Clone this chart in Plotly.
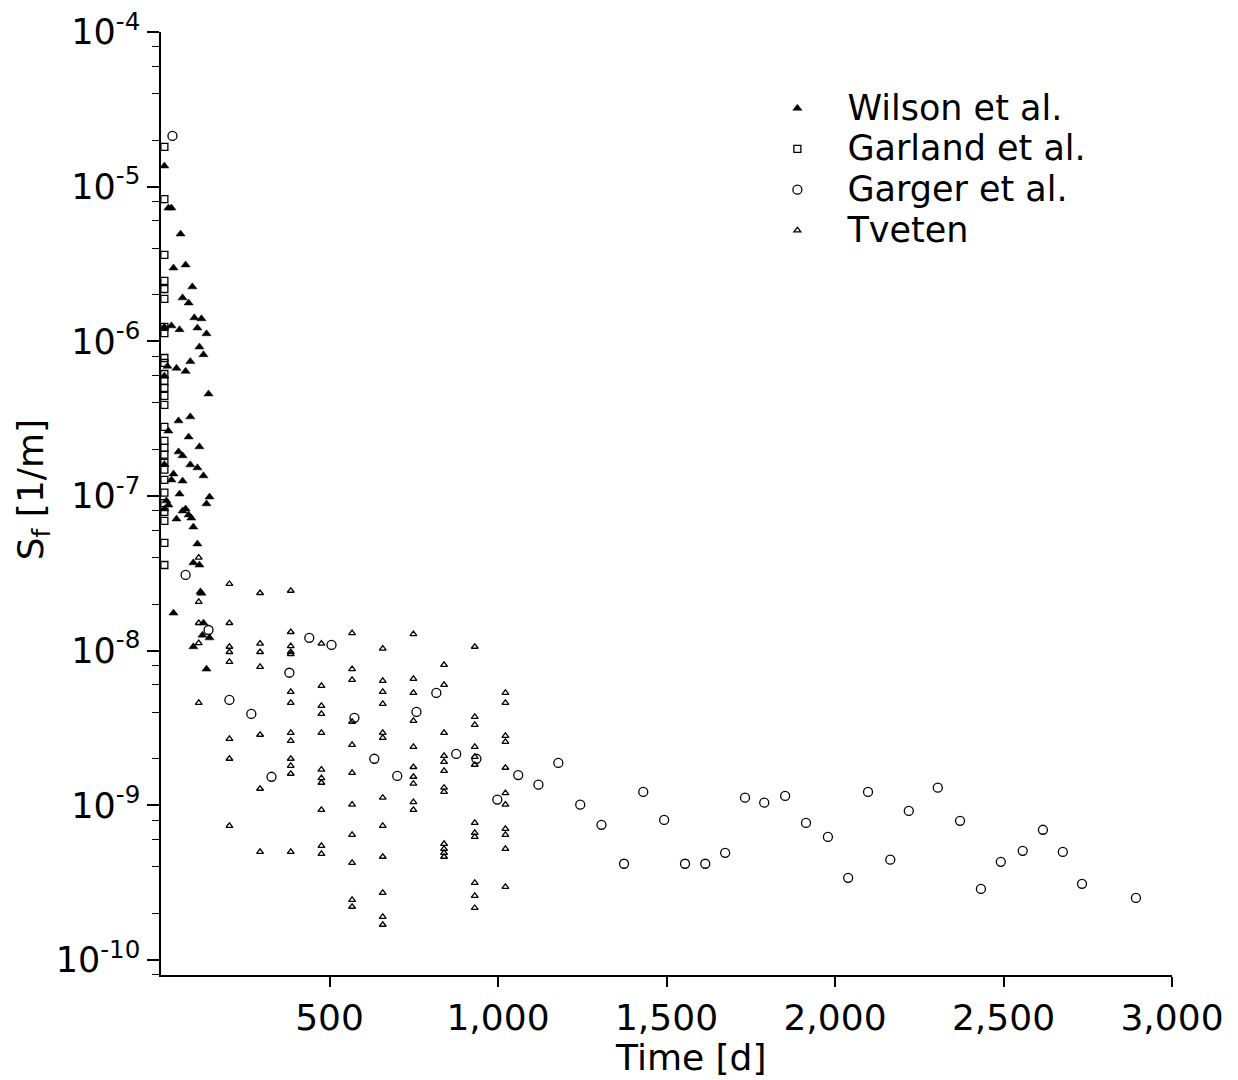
import plotly.graph_objects as go

# ---------------- data ----------------
wilson_t = [10, 22, 31, 58, 37, 73, 93, 64, 82, 99, 120, 108, 10, 31, 55, 135, 114, 126, 87, 19,
            46, 73, 10, 141, 87, 52, 22, 82, 114, 52, 64, 87, 108, 37, 126, 31, 64, 55, 144, 16,
            135, 22, 10, 73, 64, 82, 90, 46, 96, 108, 96, 114, 117, 120, 37, 126, 123, 144, 96, 135, 10]
wilson_sf = [1.36e-5, 7.28e-6, 7.28e-6, 4.94e-6, 2.98e-6, 3.12e-6, 2.25e-6, 1.91e-6, 1.77e-6, 1.42e-6,
             1.40e-6, 1.22e-6, 1.24e-6, 1.26e-6, 1.19e-6, 1.12e-6, 9.2e-7, 8.2e-7, 7.4e-7, 6.9e-7,
             6.7e-7, 6.4e-7, 5.97e-7, 4.57e-7, 3.25e-7, 3.06e-7, 2.63e-7, 2.41e-7, 2.08e-7, 1.93e-7,
             1.82e-7, 1.59e-7, 1.52e-7, 1.39e-7, 1.35e-7, 1.27e-7, 1.25e-7, 1.03e-7, 9.86e-8, 9.3e-8,
             8.9e-8, 8.75e-8, 8.25e-8, 8.25e-8, 8.0e-8, 7.55e-8, 7.2e-8, 7.1e-8, 6.3e-8, 4.9e-8,
             3.7e-8, 3.58e-8, 2.4e-8, 2.35e-8, 1.75e-8, 1.51e-8, 1.26e-8, 1.21e-8, 1.06e-8, 7.6e-9, 1.6e-7]

garland_t = [10] * 28
garland_sf = [1.81e-5, 8.3e-6, 3.62e-6, 2.46e-6, 2.18e-6, 1.88e-6, 1.24e-6, 1.13e-6, 7.8e-7, 7.25e-7,
              6.15e-7, 5.54e-7, 5.0e-7, 4.44e-7, 3.88e-7, 2.80e-7, 2.27e-7, 2.05e-7, 1.85e-7, 1.64e-7,
              1.48e-7, 1.27e-7, 1.05e-7, 9.0e-8, 7.9e-8, 6.9e-8, 4.97e-8, 3.58e-8]

garger_t = [34, 73, 141, 203, 268, 328, 381, 440, 506, 574, 633, 701, 758, 817, 876, 936, 998, 1060,
            1120, 1179, 1244, 1307, 1374, 1431, 1493, 1555, 1615, 1674, 1733, 1790, 1852, 1914, 1979,
            2039, 2098, 2164, 2219, 2305, 2371, 2433, 2492, 2557, 2617, 2676, 2733, 2893]
garger_sf = [2.13e-5, 3.09e-8, 1.36e-8, 4.8e-9, 3.9e-9, 1.53e-9, 7.2e-9, 1.21e-8, 1.09e-8, 3.68e-9,
             2.0e-9, 1.55e-9, 4.02e-9, 5.33e-9, 2.15e-9, 2.0e-9, 1.09e-9, 1.57e-9, 1.36e-9, 1.88e-9,
             1.01e-9, 7.48e-10, 4.19e-10, 1.22e-9, 8.05e-10, 4.19e-10, 4.19e-10, 4.93e-10, 1.12e-9,
             1.04e-9, 1.15e-9, 7.7e-10, 6.25e-10, 3.4e-10, 1.22e-9, 4.45e-10, 9.2e-10, 1.30e-9,
             7.94e-10, 2.88e-10, 4.31e-10, 5.08e-10, 6.95e-10, 5.0e-10, 3.11e-10, 2.52e-10]

tveten_days = [112, 203, 294, 385, 476, 567, 658, 749, 840, 931, 1022]
tveten_cols = [
    [4.0e-8, 2.07e-8, 1.51e-8, 1.12e-8, 4.6e-9],
    [2.70e-8, 1.51e-8, 1.06e-8, 9.8e-9, 8.47e-9, 2.69e-9, 2.0e-9, 7.36e-10],
    [2.36e-8, 1.11e-8, 9.8e-9, 7.86e-9, 2.86e-9, 1.28e-9, 5.0e-10],
    [2.44e-8, 1.32e-8, 1.07e-8, 9.8e-9, 9.5e-9, 5.42e-9, 4.6e-9, 2.94e-9, 2.61e-9, 2.0e-9, 1.80e-9, 1.60e-9, 5.0e-10],
    [1.11e-8, 5.92e-9, 4.40e-9, 3.90e-9, 2.94e-9, 1.70e-9, 1.50e-9, 1.40e-9, 9.35e-10, 5.47e-10, 4.86e-10],
    [1.30e-8, 7.6e-9, 6.47e-9, 3.47e-9, 2.46e-9, 1.62e-9, 1.01e-9, 6.44e-10, 4.25e-10, 2.45e-10, 2.21e-10],
    [1.03e-8, 6.38e-9, 5.42e-9, 4.53e-9, 2.94e-9, 2.73e-9, 1.12e-9, 7.36e-10, 4.65e-10, 2.72e-10, 1.90e-10, 1.69e-10],
    [1.28e-8, 6.57e-9, 5.34e-9, 3.52e-9, 2.39e-9, 1.77e-9, 1.53e-9, 1.38e-9, 1.05e-9, 9.35e-10],
    [8.1e-9, 6.01e-9, 2.94e-9, 2.09e-9, 1.91e-9, 1.67e-9, 1.30e-9, 1.22e-9, 5.64e-10, 5.23e-10, 4.93e-10, 4.65e-10],
    [1.06e-8, 3.73e-9, 3.31e-9, 2.39e-9, 2.06e-9, 1.83e-9, 7.7e-10, 6.64e-10, 6.25e-10, 3.15e-10, 2.60e-10, 2.17e-10],
    [5.34e-9, 4.6e-9, 2.81e-9, 2.57e-9, 1.75e-9, 1.20e-9, 1.01e-9, 7.04e-10, 6.44e-10, 5.23e-10, 2.97e-10],
]
tveten_t = [d for d, col in zip(tveten_days, tveten_cols) for _ in col]
tveten_sf = [v for col in tveten_cols for v in col]

series_names = ["Wilson et al.", "Garland et al.", "Garger et al.", "Tveten"]

x_tickvals = [500, 1000, 1500, 2000, 2500, 3000]
x_ticktext = ["500", "1,000", "1,500", "2,000", "2,500", "3,000"]
y_tickvals = [1e-10, 1e-9, 1e-8, 1e-7, 1e-6, 1e-5, 1e-4]
y_ticktext = ["10<sup>-10</sup>", "10<sup>-9</sup>", "10<sup>-8</sup>", "10<sup>-7</sup>",
              "10<sup>-6</sup>", "10<sup>-5</sup>", "10<sup>-4</sup>"]
y_minor = [m * 10.0 ** e for e in range(-11, -4) for m in (2, 4, 6, 8)]
x_title = "Time [d]"
y_title = "S<sub>f</sub> [1/m]"

# ---------------- figure ----------------
FONT = "DejaVu Sans"
LEG_TXT = 35


def leg(name):
    return f'<span style="font-size:{LEG_TXT}px">{name}</span>'


fig = go.Figure()
fig.add_trace(go.Scatter(x=wilson_t, y=wilson_sf, mode="markers", name=leg(series_names[0]),
                         marker=dict(symbol="triangle-up", size=8, color="black",
                                     line=dict(width=0.5, color="black")), cliponaxis=False))
fig.add_trace(go.Scatter(x=garland_t, y=garland_sf, mode="markers", name=leg(series_names[1]),
                         marker=dict(symbol="square-open", size=7, color="black",
                                     line=dict(width=1.3, color="black")), cliponaxis=False))
fig.add_trace(go.Scatter(x=garger_t, y=garger_sf, mode="markers", name=leg(series_names[2]),
                         marker=dict(symbol="circle-open", size=9, color="black",
                                     line=dict(width=1.3, color="black")), cliponaxis=False))
fig.add_trace(go.Scatter(x=tveten_t, y=tveten_sf, mode="markers", name=leg(series_names[3]),
                         marker=dict(symbol="triangle-up-open", size=6, color="black",
                                     line=dict(width=1.3, color="black")), cliponaxis=False))

# page body adds an 8px margin, so the figure is 8px smaller and margins are shifted by 8px
fig.update_layout(
    width=1230, height=1072,
    margin=dict(l=153, r=66, t=24, b=105),
    paper_bgcolor="white", plot_bgcolor="white",
    font=dict(family=FONT, size=35, color="black"),
    showlegend=True,
    legend=dict(x=0.58, y=0.946, xanchor="left", yanchor="top",
                font=dict(family=FONT, size=29, color="black"),
                bgcolor="rgba(0,0,0,0)", itemwidth=90, tracegroupgap=0),
    xaxis=dict(range=[0, 3000], tickvals=x_tickvals, ticktext=x_ticktext, automargin=False,
               showgrid=False, zeroline=False, showline=True, linecolor="black", linewidth=1.5,
               ticks="outside", ticklen=10, tickwidth=1.5, tickcolor="black",
               tickfont=dict(family=FONT, size=36, color="black")),
    yaxis=dict(type="log", range=[-10.097, -4.0], tickvals=y_tickvals, ticktext=y_ticktext,
               automargin=False, ticklabeloverflow="allow",
               showgrid=False, zeroline=False, showline=True, linecolor="black", linewidth=1.5,
               ticks="outside", ticklen=12, tickwidth=1.5, tickcolor="black",
               tickfont=dict(family=FONT, size=35, color="black"),
               minor=dict(tickvals=y_minor, ticks="outside", ticklen=7, tickwidth=1.2,
                          tickcolor="black", showgrid=False)),
    annotations=[
        dict(text=x_title, xref="paper", yref="paper", x=0.524, y=-0.087,
             xanchor="center", yanchor="middle", showarrow=False,
             font=dict(family=FONT, size=36, color="black")),
        dict(text=y_title, xref="paper", yref="paper", x=-0.1266, y=0.514, textangle=-90,
             xanchor="center", yanchor="middle", showarrow=False,
             font=dict(family=FONT, size=36, color="black")),
    ],
)

fig.write_html("out.html")
